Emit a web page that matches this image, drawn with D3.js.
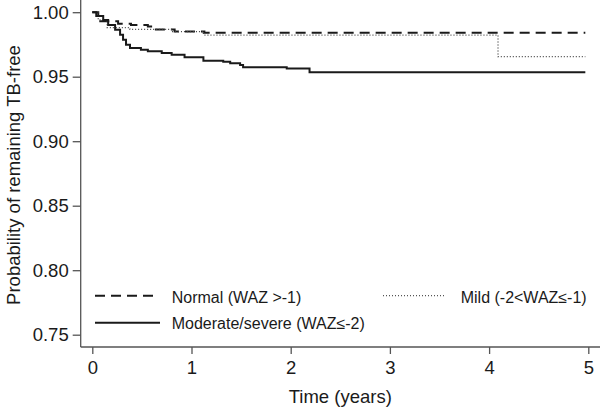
<!DOCTYPE html>
<html>
<head>
<meta charset="utf-8">
<script src="https://cdn.jsdelivr.net/npm/d3@7"></script>
<style>
  body { margin: 0; background: #fff; }
  text { font-family: "Liberation Sans", Arial, sans-serif; fill: #1a1a1a; }
</style>
</head>
<body>
<div id="chart"></div>
<script>
const width = 600, height = 410;

// Kaplan-Meier steps (time in years, survival after the step)
const normalTimes = [0, 0.06, 0.26, 0.39, 0.56, 0.63, 0.83, 1.13, 4.97];
const normalSurv  = [1.0, 0.993, 0.991, 0.990, 0.989, 0.9865, 0.985, 0.984, 0.984];

const mildTimes = [0, 0.06, 0.15, 0.38, 0.80, 1.12, 4.09, 4.97];
const mildSurv  = [1.0, 0.994, 0.988, 0.9867, 0.985, 0.9823, 0.9655, 0.9655];

const modTimes = [0, 0.04, 0.11, 0.16, 0.23, 0.28, 0.31, 0.34, 0.38, 0.49, 0.56, 0.70, 0.80, 0.93, 1.12, 1.32, 1.39, 1.49, 1.52, 1.96, 2.19, 4.97];
const modSurv  = [1.0, 0.997, 0.994, 0.990, 0.9864, 0.9826, 0.9787, 0.9748, 0.9722, 0.9709, 0.9697, 0.9684, 0.9671, 0.965, 0.9624, 0.9616, 0.9604, 0.9591, 0.9573, 0.9564, 0.9535, 0.9535];

const xTicks = [0, 1, 2, 3, 4, 5];
const yTicks = [0.75, 0.80, 0.85, 0.90, 0.95, 1.00];

const svg = d3.select("#chart").append("svg")
    .attr("width", width)
    .attr("height", height);

const x = d3.scaleLinear().domain([0, 5]).range([92.3, 588.3]);
const y = d3.scaleLinear().domain([0.75, 1.0]).range([334.7, 12.2]);

const axisColor = "#555";
const axisLeft = 80.7, axisBottom = 347;

// axis lines (L shaped frame)
svg.append("line")
    .attr("x1", axisLeft).attr("x2", axisLeft)
    .attr("y1", 0).attr("y2", axisBottom)
    .attr("stroke", axisColor).attr("stroke-width", 1.3);
svg.append("line")
    .attr("x1", axisLeft).attr("x2", width)
    .attr("y1", axisBottom).attr("y2", axisBottom)
    .attr("stroke", axisColor).attr("stroke-width", 1.3);

// y ticks
const yAxis = svg.append("g")
    .attr("transform", `translate(${axisLeft},0)`)
    .call(d3.axisLeft(y).tickValues(yTicks).tickFormat(d3.format(".2f")).tickSize(8).tickPadding(4).tickSizeOuter(0));
yAxis.select(".domain").remove();
yAxis.selectAll("line").attr("stroke", axisColor).attr("stroke-width", 1.3);
yAxis.selectAll("text").style("font-size", "18.5px").attr("fill", "#1a1a1a");

// x ticks
const xAxis = svg.append("g")
    .attr("transform", `translate(0,${axisBottom})`)
    .call(d3.axisBottom(x).tickValues(xTicks).tickFormat(d3.format("d")).tickSize(7).tickPadding(7).tickSizeOuter(0));
xAxis.select(".domain").remove();
xAxis.selectAll("line").attr("stroke", axisColor).attr("stroke-width", 1.3);
xAxis.selectAll("text").style("font-size", "18.5px").attr("fill", "#1a1a1a");

// axis titles
svg.append("text")
    .attr("x", x(2.5)).attr("y", 403)
    .attr("text-anchor", "middle")
    .style("font-size", "18.5px")
    .text("Time (years)");

svg.append("text")
    .attr("transform", "translate(20,175) rotate(-90)")
    .attr("text-anchor", "middle")
    .style("font-size", "18.5px")
    .text("Probability of remaining TB-free");

// survival curves
const line = d3.line()
    .x(d => x(d[0]))
    .y(d => y(d[1]))
    .curve(d3.curveStepAfter);

const series = [
  { times: normalTimes, surv: normalSurv, dash: "10,6", width: 2, color: "#1a1a1a" },
  { times: mildTimes, surv: mildSurv, dash: "1,2", width: 1.3, color: "#444" },
  { times: modTimes, surv: modSurv, dash: null, width: 2, color: "#1a1a1a" }
];

series.forEach(s => {
  svg.append("path")
      .datum(d3.zip(s.times, s.surv))
      .attr("d", line)
      .attr("fill", "none")
      .attr("stroke", s.color)
      .attr("stroke-width", s.width)
      .attr("stroke-dasharray", s.dash);
});

// legend
const legend = [
  { label: "Normal (WAZ >-1)", x1: 95, x2: 156, y: 295.7, tx: 171.7, ty: 303.3, dash: "10,6", width: 2, color: "#1a1a1a" },
  { label: "Mild (-2<WAZ≤-1)", x1: 383, x2: 446, y: 295.7, tx: 460.7, ty: 303.3, dash: "1,2", width: 1.3, color: "#555" },
  { label: "Moderate/severe (WAZ≤-2)", x1: 95, x2: 160, y: 322.7, tx: 171.7, ty: 328.5, dash: null, width: 2, color: "#1a1a1a" }
];

legend.forEach(l => {
  svg.append("line")
      .attr("x1", l.x1).attr("x2", l.x2)
      .attr("y1", l.y).attr("y2", l.y)
      .attr("stroke", l.color)
      .attr("stroke-width", l.width)
      .attr("stroke-dasharray", l.dash);
  svg.append("text")
      .attr("x", l.tx).attr("y", l.ty)
      .style("font-size", "16px")
      .text(l.label);
});
</script>
</body>
</html>
